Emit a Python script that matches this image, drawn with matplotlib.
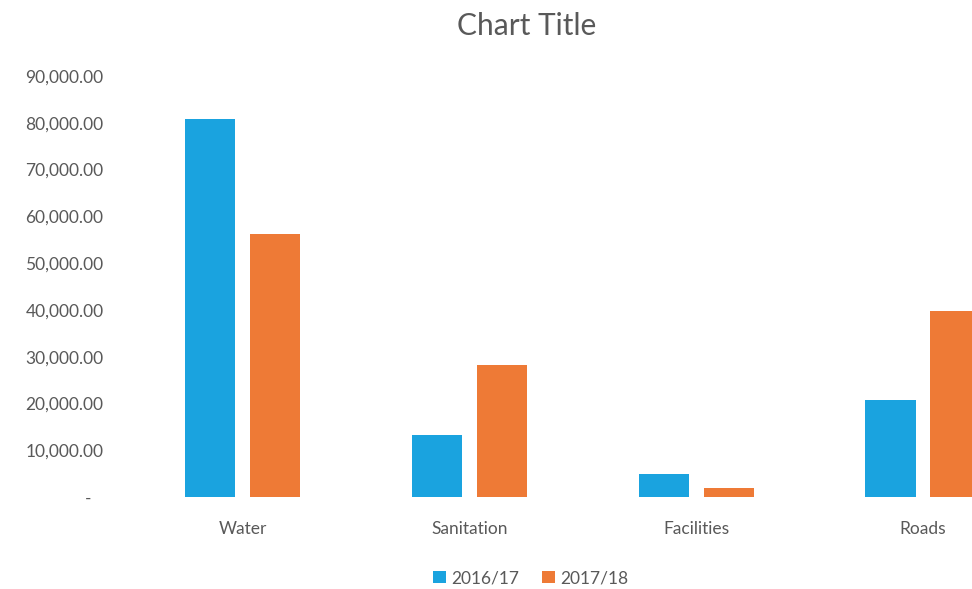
import matplotlib
matplotlib.use("Agg")
import matplotlib.pyplot as plt
import matplotlib.transforms as mtransforms
from matplotlib.ticker import FuncFormatter, MultipleLocator
from matplotlib.patches import Patch
import numpy as np

categories = ["Water", "Sanitation", "Facilities", "Roads"]
series_names = ["2016/17", "2017/18"]
values_2016 = [80900, 13150, 4850, 20750]
values_2017 = [56300, 28300, 2000, 39850]
title = "Chart Title"

colors = ["#1AA3DF", "#EE7A36"]
text_color = "#595959"
font = "Lato"
weight = "normal"

fig = plt.figure(figsize=(9.72, 5.89), dpi=100)
# plot area extends past the right edge (reference is cropped)
ax = fig.add_axes([129.3 / 972, (589 - 497) / 589, 4 * 226.8 / 972, (497 - 76) / 589])

x = np.arange(len(categories))
w = 0.222
off = 0.143
ax.bar(x - off, values_2016, width=w, color=colors[0], label=series_names[0])
ax.bar(x + off, values_2017, width=w, color=colors[1], label=series_names[1])

ax.set_xlim(-0.5, len(categories) - 0.5)
ax.set_ylim(0, 90000)
ax.yaxis.set_major_locator(MultipleLocator(10000))
ax.yaxis.set_major_formatter(FuncFormatter(lambda v, p: "" if v == 0 else f"{v:,.2f}"))
ax.set_xticks(x)
ax.set_xticklabels(categories)

for s in ax.spines.values():
    s.set_visible(False)
ax.tick_params(axis="y", length=0, pad=18.5, labelsize=12.5, labelcolor=text_color)
ax.tick_params(axis="x", length=0, pad=17.5, labelsize=12.5, labelcolor=text_color)
for lab in ax.get_yticklabels() + ax.get_xticklabels():
    lab.set_fontfamily(font)
    lab.set_fontweight(weight)

# Excel accounting-style zero label "-"
tr = mtransforms.blended_transform_factory(ax.transAxes, ax.transData) + \
    mtransforms.ScaledTranslation(-41 / 100, -2 / 100, fig.dpi_scale_trans)
ax.text(0, 0, "-", transform=tr, ha="center", va="center", fontsize=12.5,
        color=text_color, fontfamily=font, fontweight=weight)

fig.text(527 / 972, 1 - 26 / 589, title, ha="center", va="center", fontsize=21.5,
         color=text_color, fontfamily=font, fontweight=weight)

handles = [Patch(facecolor=colors[0], label=series_names[0]),
           Patch(facecolor=colors[1], label=series_names[1])]
leg = fig.legend(handles=handles, loc="center", bbox_to_anchor=(531 / 972, 1 - 578 / 589),
                 ncol=2, frameon=False, handlelength=0.75, handleheight=0.75,
                 handletextpad=0.3, columnspacing=1.3,
                 prop={"family": font, "size": 12.5, "weight": weight})
for t in leg.get_texts():
    t.set_color(text_color)

fig.savefig("out.png", dpi=100)
